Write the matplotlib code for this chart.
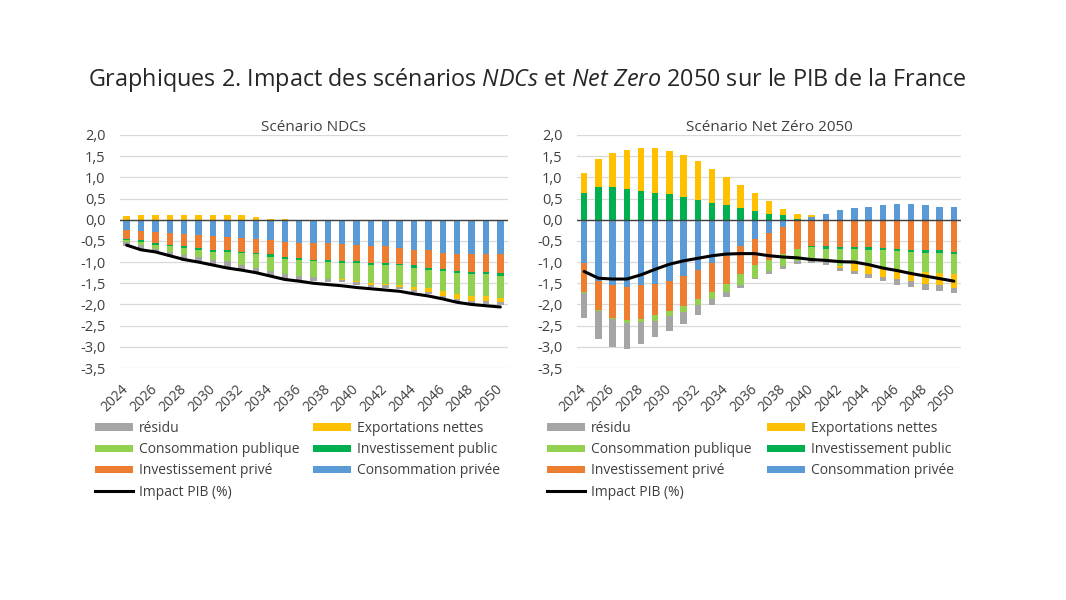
import numpy as np
import matplotlib
matplotlib.use("Agg")
import matplotlib.pyplot as plt
from matplotlib.patches import Patch
from matplotlib.lines import Line2D

plt.rcParams['font.family'] = ['Open Sans', 'DejaVu Sans']
plt.rcParams['mathtext.fontset'] = 'custom'
plt.rcParams['mathtext.rm'] = 'Open Sans'
plt.rcParams['mathtext.it'] = 'Open Sans:italic'

years = list(range(2024, 2051))

series_names = ["Consommation privée", "Investissement privé", "Investissement public",
                "Consommation publique", "Exportations nettes", "résidu"]
colors = ["#5B9BD5", "#ED7D31", "#00B050", "#92D050", "#FFC000", "#A5A5A5"]

# ---- Scénario NDCs ----
ndc_cons_privee = [-0.25, -0.27, -0.29, -0.31, -0.34, -0.35, -0.39, -0.41, -0.43, -0.45, -0.49, -0.53, -0.56, -0.56,
                   -0.55, -0.57, -0.59, -0.61, -0.63, -0.67, -0.71, -0.72, -0.78, -0.80, -0.82, -0.82, -0.82]
ndc_inv_prive = [-0.20, -0.22, -0.26, -0.28, -0.29, -0.32, -0.32, -0.31, -0.32, -0.33, -0.33, -0.35, -0.34, -0.38,
                 -0.39, -0.41, -0.39, -0.41, -0.39, -0.37, -0.35, -0.42, -0.38, -0.40, -0.42, -0.42, -0.43]
ndc_inv_public = [-0.04, -0.04, -0.04, -0.04, -0.04, -0.04, -0.04, -0.05, -0.03, -0.04, -0.06, -0.05, -0.06, -0.04,
                  -0.05, -0.04, -0.04, -0.05, -0.05, -0.03, -0.08, -0.04, -0.06, -0.05, -0.05, -0.05, -0.08]
ndc_cons_publique = [-0.03, -0.06, -0.10, -0.14, -0.17, -0.17, -0.19, -0.21, -0.28, -0.32, -0.34, -0.34, -0.36, -0.38,
                     -0.41, -0.39, -0.42, -0.42, -0.44, -0.46, -0.44, -0.43, -0.47, -0.50, -0.50, -0.51, -0.51]
ndc_export = [0.08, 0.10, 0.10, 0.12, 0.12, 0.12, 0.10, 0.10, 0.11, 0.06, 0.02, 0.01, 0.0, 0.0,
              0.0, -0.01, -0.03, -0.04, -0.04, -0.05, -0.08, -0.10, -0.11, -0.12, -0.13, -0.12, -0.11]
ndc_residu = [-0.11, -0.11, -0.09, -0.11, -0.14, -0.14, -0.14, -0.14, -0.13, -0.11, -0.10, -0.13, -0.11, -0.09,
              -0.07, -0.05, -0.06, -0.05, -0.06, -0.05, -0.05, -0.05, -0.06, -0.05, -0.06, -0.06, -0.07]
ndc_pib = [-0.60, -0.71, -0.76, -0.85, -0.94, -1.00, -1.07, -1.14, -1.19, -1.25, -1.33, -1.41, -1.45, -1.50,
           -1.53, -1.56, -1.60, -1.63, -1.66, -1.69, -1.75, -1.80, -1.87, -1.95, -2.00, -2.03, -2.06]

# ---- Scénario Net Zéro 2050 ----
nz_cons_privee = [-1.02, -1.45, -1.53, -1.58, -1.55, -1.51, -1.45, -1.32, -1.18, -1.02, -0.86, -0.63, -0.45, -0.31,
                  -0.18, -0.02, 0.06, 0.14, 0.22, 0.27, 0.31, 0.34, 0.37, 0.37, 0.34, 0.31, 0.31]
nz_inv_prive = [-0.69, -0.67, -0.78, -0.79, -0.79, -0.73, -0.71, -0.72, -0.70, -0.68, -0.65, -0.66, -0.63, -0.63,
                -0.64, -0.66, -0.63, -0.63, -0.64, -0.64, -0.64, -0.67, -0.68, -0.71, -0.72, -0.72, -0.75]
nz_inv_public = [0.63, 0.77, 0.77, 0.73, 0.68, 0.63, 0.61, 0.53, 0.47, 0.39, 0.34, 0.27, 0.20, 0.14,
                 0.10, 0.02, -0.02, -0.05, -0.06, -0.06, -0.07, -0.05, -0.06, -0.06, -0.06, -0.06, -0.06]
nz_cons_publique = [-0.02, -0.04, -0.04, -0.06, -0.08, -0.15, -0.11, -0.14, -0.14, -0.18, -0.20, -0.24, -0.29, -0.28,
                    -0.28, -0.30, -0.25, -0.30, -0.40, -0.32, -0.35, -0.44, -0.48, -0.48, -0.46, -0.47, -0.46]
nz_export = [0.48, 0.66, 0.80, 0.92, 1.01, 1.06, 1.02, 1.00, 0.92, 0.80, 0.68, 0.55, 0.43, 0.31,
             0.16, 0.12, 0.05, 0.0, -0.04, -0.20, -0.23, -0.19, -0.19, -0.20, -0.27, -0.28, -0.34]
nz_residu = [-0.58, -0.66, -0.65, -0.61, -0.51, -0.39, -0.36, -0.27, -0.22, -0.14, -0.11, -0.08, -0.04, -0.05,
             -0.06, -0.06, -0.12, -0.08, -0.06, -0.05, -0.08, -0.10, -0.12, -0.13, -0.14, -0.16, -0.13]
nz_pib = [-1.22, -1.38, -1.40, -1.40, -1.30, -1.17, -1.05, -0.97, -0.91, -0.85, -0.81, -0.80, -0.80, -0.85,
          -0.88, -0.90, -0.94, -0.96, -0.99, -1.00, -1.06, -1.14, -1.20, -1.27, -1.33, -1.39, -1.45]

ndc = [ndc_cons_privee, ndc_inv_prive, ndc_inv_public, ndc_cons_publique, ndc_export, ndc_residu]
nz = [nz_cons_privee, nz_inv_prive, nz_inv_public, nz_cons_publique, nz_export, nz_residu]

yticks = [2.0, 1.5, 1.0, 0.5, 0.0, -0.5, -1.0, -1.5, -2.0, -2.5, -3.0, -3.5]
text_color = "#404040"

W, H = 1066, 600
fig = plt.figure(figsize=(W / 100, H / 100), dpi=100)


def px_axes(x0, x1, ytop, ybot):
    return fig.add_axes([x0 / W, 1 - ybot / H, (x1 - x0) / W, (ybot - ytop) / H])


def draw(ax, comps, pib, title, ypad):
    x = np.arange(len(years))
    pos = np.zeros(len(years))
    neg = np.zeros(len(years))
    for vals, c in zip(comps, colors):
        v = np.array(vals, dtype=float)
        bottom = np.where(v >= 0, pos, neg)
        ax.bar(x, v, width=0.45, bottom=bottom, color=c, zorder=2, linewidth=0)
        pos = pos + np.where(v >= 0, v, 0)
        neg = neg + np.where(v < 0, v, 0)
    ax.plot(x, pib, color="black", lw=2.2, zorder=4, solid_capstyle="round")
    ax.axhline(0, color="#404040", lw=1.0, zorder=3)
    ax.set_ylim(-3.5, 2.0)
    ax.set_xlim(-0.5, len(years) - 0.5)
    ax.set_yticks(yticks)
    ax.set_yticklabels([f"{t:.1f}".replace(".", ",") for t in yticks], fontsize=10.5, color=text_color)
    ax.yaxis.grid(True, color="#D9D9D9", lw=0.9, zorder=0)
    ax.set_axisbelow(True)
    ax.set_xticks(x[::2])
    ax.set_xticklabels([str(y) for y in years[::2]], rotation=45, ha="right", va="center",
                       rotation_mode="anchor", fontsize=10, color=text_color)
    ax.tick_params(axis="x", length=0, pad=14)
    ax.tick_params(axis="y", length=0, pad=ypad)
    for s in ax.spines.values():
        s.set_visible(False)
    ax.set_title(title, fontsize=11, color=text_color, pad=2)


axL = px_axes(119.5, 507.5, 135, 368)
axR = px_axes(577, 961, 135, 368)
draw(axL, ndc, ndc_pib, "Scénario NDCs", 10)
draw(axR, nz, nz_pib, "Scénario Net Zéro 2050", 10.5)

fig.text(527 / W, 1 - 80 / H,
         r"Graphiques 2. Impact des scénarios $\mathit{NDCs}$ et $\mathit{Net\ Zero}$ 2050 sur le PIB de la France",
         ha="center", va="center", fontsize=16.8, color="#262626")

# legend handles (column-major order for 2 columns)
h = {n: Patch(facecolor=c, edgecolor="none") for n, c in zip(series_names, colors)}
line_h = Line2D([0], [0], color="black", lw=2.2)
handles = [h["résidu"], h["Consommation publique"], h["Investissement privé"], line_h,
           h["Exportations nettes"], h["Investissement public"], h["Consommation privée"]]
labels = ["résidu", "Consommation publique", "Investissement privé", "Impact PIB (%)",
          "Exportations nettes", "Investissement public", "Consommation privée"]

for x0, colsp in [(95, 1.0), (547, 1.15)]:
    fig.legend(handles, labels, ncol=2, loc="upper left",
               bbox_to_anchor=(x0 / W, 1 - 421 / H), frameon=False,
               fontsize=10, labelcolor=text_color, handlelength=2.7, handleheight=0.45,
               handletextpad=0.45, columnspacing=colsp, labelspacing=0.45,
               borderpad=0, borderaxespad=0)

fig.savefig("out.png", dpi=100, facecolor="white")
